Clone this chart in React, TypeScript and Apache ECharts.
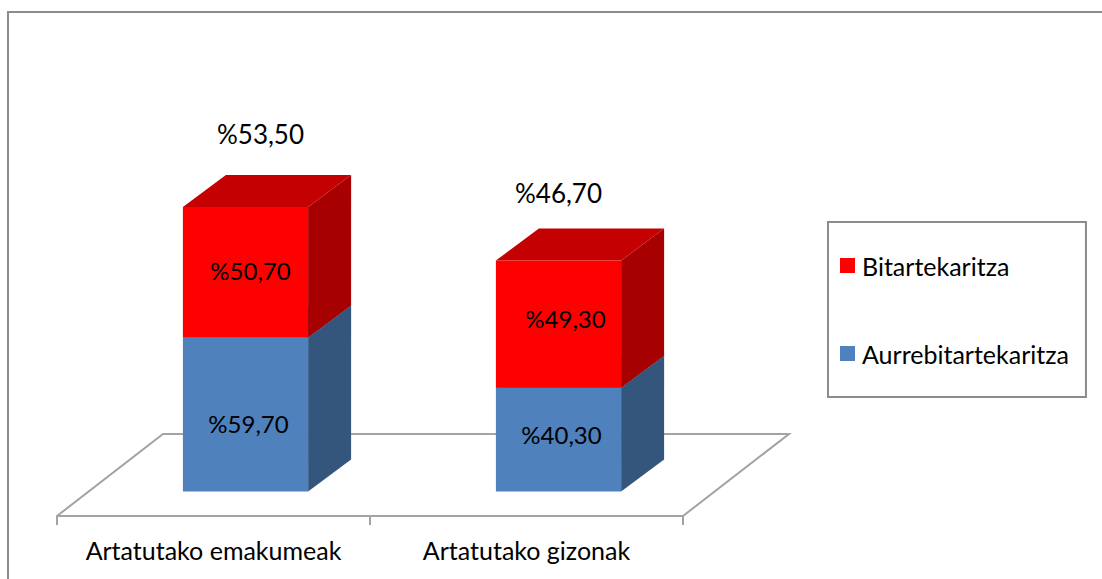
import React, { useEffect, useRef } from "react";
import * as echarts from "echarts";

const categories = ["Artatutako emakumeak", "Artatutako gizonak"];
const aurrebitartekaritza = [59.7, 40.3];
const bitartekaritza = [50.7, 49.3];
const totalLabels = ["%53,50", "%46,70"];

const blueNames = "Aurrebitartekaritza";
const redNames = "Bitartekaritza";

const FONT = "Lato, Carlito, sans-serif";
const DEPTH_X = 43;
const DEPTH_Y = 32;
const BAR_SHIFT = 32;

const fmt = (v: number) => "%" + v.toFixed(2).replace(".", ",");

const blueLabelOffset = [
  [3, 9],
  [3, -5],
];
const redLabelOffset = [
  [5, -2],
  [7, -6],
];
const totalLabelPos = [
  [15, -73],
  [0, -68],
];

function box3d(
  front: string,
  side: string,
  top: string,
  labelOffset: number[][],
  withTotal: boolean
) {
  return (params: any, api: any) => {
    const i = api.value(0);
    const hi = api.coord([i, api.value(1)]);
    const lo = api.coord([i, api.value(2)]);
    const band = api.size([1, 0])[0];
    const w = band * 0.4;
    const x0 = hi[0] + BAR_SHIFT - w / 2;
    const x1 = x0 + w;
    const children: any[] = [
      {
        type: "polygon",
        shape: { points: [[x1, lo[1]], [x1 + DEPTH_X, lo[1] - DEPTH_Y], [x1 + DEPTH_X, hi[1] - DEPTH_Y], [x1, hi[1]]] },
        style: { fill: side },
      },
      {
        type: "polygon",
        shape: { points: [[x0, hi[1]], [x0 + DEPTH_X, hi[1] - DEPTH_Y], [x1 + DEPTH_X, hi[1] - DEPTH_Y], [x1, hi[1]]] },
        style: { fill: top },
      },
      {
        type: "rect",
        shape: { x: x0, y: hi[1], width: w, height: lo[1] - hi[1] },
        style: { fill: front },
      },
      {
        type: "text",
        x: (x0 + x1) / 2 + labelOffset[i][0],
        y: (lo[1] + hi[1]) / 2 + labelOffset[i][1],
        style: {
          text: fmt(api.value(1) - api.value(2)),
          fill: "#000",
          font: `24px ${FONT}`,
          align: "center",
          verticalAlign: "middle",
        },
      },
    ];
    if (withTotal) {
      children.push({
        type: "text",
        x: (x0 + x1) / 2 + totalLabelPos[i][0],
        y: hi[1] + totalLabelPos[i][1],
        style: {
          text: totalLabels[i],
          fill: "#000",
          font: `26px ${FONT}`,
          align: "center",
          verticalAlign: "middle",
        },
      });
    }
    return { type: "group", children };
  };
}

export default function App() {
  const ref = useRef<HTMLDivElement>(null);
  useEffect(() => {
    const chart = echarts.init(ref.current!, null, { renderer: "svg" });
    const line = { stroke: "#a3a3a3", lineWidth: 2, fill: "none" };
    chart.setOption({
      animation: false,
      backgroundColor: "#fff",
      grid: { left: 57, top: 52, width: 626, height: 464 },
      xAxis: {
        type: "category",
        data: categories,
        axisLine: { onZero: false, lineStyle: { color: "#a3a3a3", width: 2 } },
        axisTick: { show: true, interval: 0, length: 9, lineStyle: { color: "#a3a3a3", width: 2 } },
        axisLabel: { color: "#000", fontFamily: FONT, fontSize: 25, margin: 21, interval: 0 },
      },
      yAxis: { type: "value", min: -9.5, max: 170.5, show: false },
      legend: {
        data: [redNames, blueNames],
        orient: "vertical",
        left: 828,
        top: 222,
        icon: "rect",
        itemWidth: 15,
        itemHeight: 15,
        itemGap: 63,
        padding: [31, 17, 31, 12],
        borderColor: "#8c8c8c",
        borderWidth: 2,
        selectedMode: false,
        textStyle: { color: "#000", fontFamily: FONT, fontSize: 25, padding: [0, 0, 0, 2] },
      },
      graphic: [
        { type: "polyline", z: 0, shape: { points: [[8, 579], [8, 12], [1102, 12]] }, style: { stroke: "#8c8c8c", lineWidth: 2, fill: "none" } },
        { type: "polyline", z: 0, shape: { points: [[57, 516], [163, 434], [789, 434], [683, 516]] }, style: line },
      ],
      series: [
        {
          name: blueNames,
          type: "custom",
          itemStyle: { color: "#4f81bd" },
          clip: false,
          renderItem: box3d("#4f81bd", "#34557c", "#3e6797", blueLabelOffset, false),
          data: aurrebitartekaritza.map((v, i) => [i, v, 0]),
        },
        {
          name: redNames,
          type: "custom",
          itemStyle: { color: "#ff0000" },
          clip: false,
          renderItem: box3d("#ff0000", "#a60000", "#c40000", redLabelOffset, true),
          data: bitartekaritza.map((v, i) => [i, aurrebitartekaritza[i] + v, aurrebitartekaritza[i]]),
        },
      ],
    });
    return () => chart.dispose();
  }, []);
  return <div ref={ref} style={{ position: "fixed", left: 0, top: 0, width: 1102, height: 579 }} />;
}
